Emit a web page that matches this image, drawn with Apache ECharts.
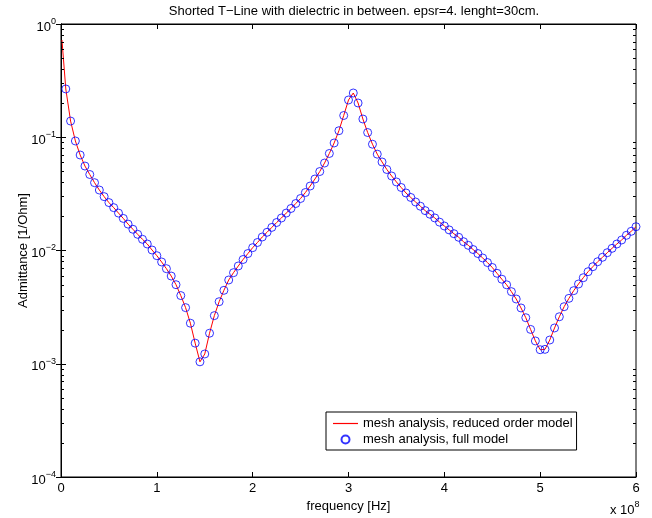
<!DOCTYPE html>
<html>
<head>
<meta charset="utf-8">
<script src="https://cdn.jsdelivr.net/npm/echarts@6/dist/echarts.min.js"></script>
<style>
html,body{margin:0;padding:0;background:#fff;}
#chart{width:652px;height:518px;}
</style>
</head>
<body>
<div id="chart"></div>
<script>
// frequency in units of 1e8 Hz
const freq = [0.05,0.10,0.15,0.20,0.25,0.30,0.35,0.40,0.45,0.50,0.55,0.60,0.65,0.70,0.75,0.80,0.85,0.90,0.95,1.00,
1.05,1.10,1.15,1.20,1.25,1.30,1.35,1.40,1.45,1.50,1.55,1.60,1.65,1.70,1.75,1.80,1.85,1.90,1.95,2.00,
2.05,2.10,2.15,2.20,2.25,2.30,2.35,2.40,2.45,2.50,2.55,2.60,2.65,2.70,2.75,2.80,2.85,2.90,2.95,3.00,
3.05,3.10,3.15,3.20,3.25,3.30,3.35,3.40,3.45,3.50,3.55,3.60,3.65,3.70,3.75,3.80,3.85,3.90,3.95,4.00,
4.05,4.10,4.15,4.20,4.25,4.30,4.35,4.40,4.45,4.50,4.55,4.60,4.65,4.70,4.75,4.80,4.85,4.90,4.95,5.00,
5.05,5.10,5.15,5.20,5.25,5.30,5.35,5.40,5.45,5.50,5.55,5.60,5.65,5.70,5.75,5.80,5.85,5.90,5.95,6.00];

// admittance of the full model [1/Ohm]
const fullModel = [0.267,0.139,0.0927,0.0697,0.0557,0.0469,0.0397,0.0342,0.0299,0.0265,
0.0239,0.0214,0.0192,0.0171,0.0154,0.0139,0.01256,0.01141,0.0101,0.0090,
0.00792,0.00691,0.00595,0.00499,0.0040,0.00313,0.00228,0.00152,0.00104,0.00122,
0.00186,0.00266,0.00353,0.00445,0.00549,0.00637,0.0073,0.00833,0.0094,0.01059,
0.01177,0.01316,0.01448,0.0160,0.01767,0.01936,0.0214,0.0235,0.026,0.0288,
0.0325,0.0371,0.0428,0.0498,0.0592,0.0719,0.089,0.1142,0.1556,0.2133,
0.2459,0.2006,0.1449,0.1101,0.0868,0.0709,0.0605,0.0519,0.0455,0.0403,
0.036,0.0322,0.0294,0.0268,0.0246,0.0225,0.0209,0.0194,0.0178,0.01646,
0.0152,0.01407,0.01308,0.01196,0.01111,0.0102,0.0094,0.00859,0.00783,0.00708,
0.00629,0.00558,0.00498,0.00433,0.00373,0.00311,0.00255,0.00201,0.00159,0.00133,
0.00134,0.00162,0.00207,0.0026,0.00319,0.00378,0.00442,0.00506,0.00575,0.0065,
0.0072,0.00796,0.00871,0.00956,0.01045,0.01141,0.01238,0.01362,0.01477,0.01622];

// reduced order model: starts just above 0 Hz then follows the same samples
const reducedStartFreq = [0.01];
const reducedStartValue = [0.723];

const xTicks = [0,1,2,3,4,5,6];
const yExponents = {'1':'0','0.1':'\u22121','0.01':'\u22122','0.001':'\u22123','0.0001':'\u22124'};
const minorTickValues = [];
[1e-4,1e-3,1e-2,1e-1].forEach(function(d){ for (let m=2;m<=9;m++) minorTickValues.push(+(m*d).toPrecision(3)); });

const titleText = 'Shorted T\u2212Line with dielectric in between. epsr=4. lenght=30cm.';
const xName = 'frequency [Hz]';
const yName = 'Admittance [1/Ohm]';
const seriesNames = ['mesh analysis, reduced order model','mesh analysis, full model'];

const FONT = '"Liberation Sans", Arial, Helvetica, sans-serif';
const FS = 13;
const chart = echarts.init(document.getElementById('chart'), null, {renderer:'canvas'});

const reducedData = reducedStartFreq.map((f,i)=>[f, reducedStartValue[i]]).concat(freq.map((f,i)=>[f, fullModel[i]]));
const fullData = freq.map((f,i)=>[f, fullModel[i]]);

const grid = {left:61, right:16, top:24, bottom:41};

chart.setOption({
  animation:false,
  backgroundColor:'#fff',
  textStyle:{fontFamily:FONT},
  title:{
    text:titleText, left:349, top:0, textAlign:'center',
    textStyle:{fontSize:FS, fontWeight:'normal', color:'#000', fontFamily:FONT}
  },
  grid:Object.assign({show:true, borderColor:'#000', borderWidth:1, backgroundColor:'#fff'}, grid),
  legend:{
    orient:'vertical', left:326, top:412,
    padding:[5,4,4,7], itemGap:3, itemWidth:25, itemHeight:8, itemTextGap:9,
    symbolKeepAspect:true,
    borderColor:'#000', borderWidth:1, backgroundColor:'#fff',
    textStyle:{fontSize:FS, color:'#000', fontFamily:FONT},
    data:[
      {name:seriesNames[0], icon:'path://M0,0H50V2.4H0Z', itemStyle:{color:'#ff0000', borderWidth:0}},
      {name:seriesNames[1], icon:'circle'}
    ]
  },
  xAxis:[{
    type:'value', min:0, max:6, interval:1, position:'bottom',
    axisLine:{show:true, lineStyle:{color:'#000', width:1}},
    axisTick:{show:true, inside:true, length:5, lineStyle:{color:'#000'}},
    axisLabel:{show:true, margin:5, fontSize:FS, color:'#000', fontFamily:FONT},
    splitLine:{show:false},
    name:xName, nameLocation:'middle', nameGap:21,
    nameTextStyle:{fontSize:FS, color:'#000', fontFamily:FONT}
  },{
    type:'value', min:0, max:6, interval:1, position:'top',
    axisLine:{show:true, lineStyle:{color:'#000', width:1}},
    axisTick:{show:true, inside:true, length:5, lineStyle:{color:'#000'}},
    axisLabel:{show:false}, splitLine:{show:false}
  }],
  yAxis:[{
    type:'log', logBase:10, min:1e-4, max:1, interval:1, position:'left',
    axisLine:{show:true, lineStyle:{color:'#000', width:1}},
    axisTick:{show:true, inside:true, length:5, lineStyle:{color:'#000'}},
    axisLabel:{
      show:true, margin:5, color:'#000', fontFamily:FONT,
      formatter:function(v){ const k = String(+v.toPrecision(3)); return '{b|10}{s|' + (yExponents[k]||'') + '}'; },
      rich:{b:{fontSize:FS, color:'#000', fontFamily:FONT, padding:[6,0,0,0]}, s:{fontSize:9, color:'#000', fontFamily:FONT, padding:[0,0,5,0]}}
    },
    splitLine:{show:false},
    name:yName, nameLocation:'middle', nameGap:31, nameRotate:90, nameMoveOverlap:false,
    nameTextStyle:{fontSize:FS, color:'#000', fontFamily:FONT}
  },{
    type:'log', logBase:10, min:1e-4, max:1, interval:1, position:'right',
    axisLine:{show:true, lineStyle:{color:'#000', width:1}},
    axisTick:{show:true, inside:true, length:5, lineStyle:{color:'#000'}},
    axisLabel:{show:false}, splitLine:{show:false}
  }],
  graphic:[{
    type:'text', left:610, top:500,
    style:{rich:{b:{fontSize:FS, fill:'#000', fontFamily:FONT, padding:[6,0,0,0]}, s:{fontSize:9, fill:'#000', fontFamily:FONT, padding:[0,0,5,0]}},
      text:'{b|x 10}{s|8}', fill:'#000'}
  }],
  series:[{
    type:'custom', name:'minorTicks', silent:true, z:5,
    data:minorTickValues.map(v=>[0, v]),
    renderItem:function(params, api){
      const v = api.value(1);
      const pl = api.coord([0, v]);
      const pr = api.coord([6, v]);
      const y = Math.round(pl[1]) + 0.5;
      return {type:'group', children:[
        {type:'line', shape:{x1:pl[0], y1:y, x2:pl[0]+3, y2:y}, style:{stroke:'#000', lineWidth:1}},
        {type:'line', shape:{x1:pr[0]-3, y1:y, x2:pr[0], y2:y}, style:{stroke:'#000', lineWidth:1}}
      ]};
    }
  },{
    type:'line', name:seriesNames[0], data:reducedData,
    showSymbol:false, symbol:'none', smooth:false,
    lineStyle:{color:'#ff0000', width:1}, itemStyle:{color:'#ff0000'}, z:3
  },{
    type:'scatter', name:seriesNames[1], data:fullData,
    symbol:'circle', symbolSize:8,
    itemStyle:{color:'rgba(0,0,0,0)', borderColor:'#0000ff', borderWidth:1}, z:4
  }]
});
</script>
</body>
</html>
